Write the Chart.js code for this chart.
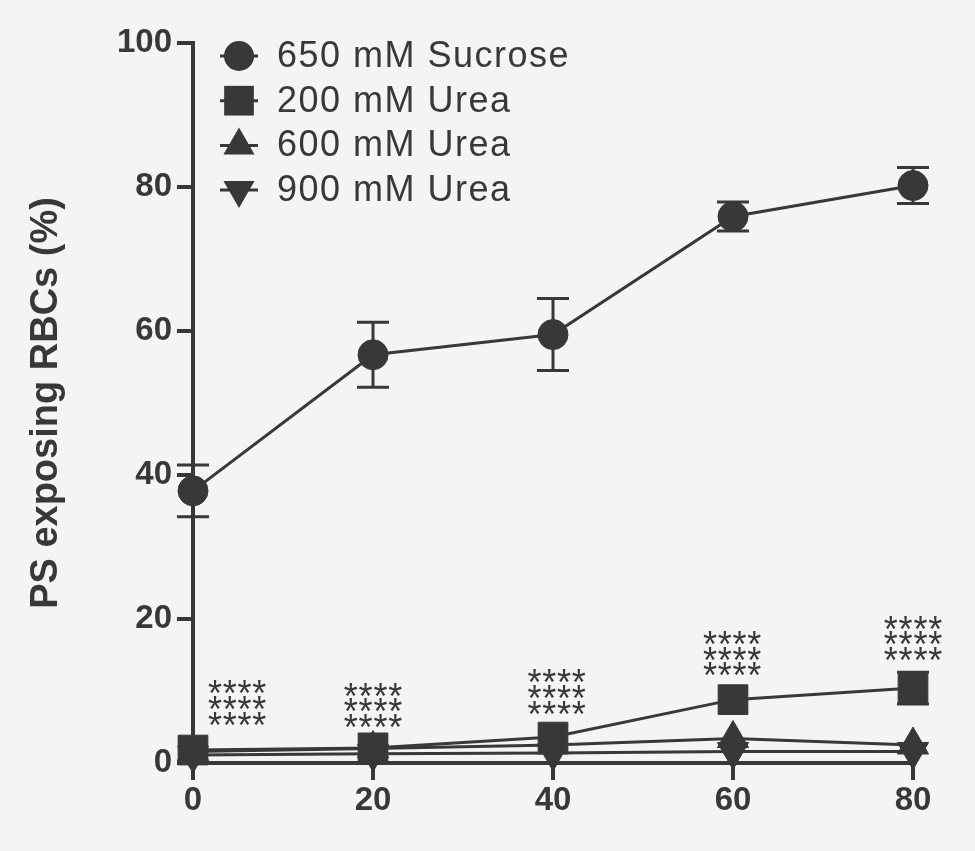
<!DOCTYPE html>
<html>
<head>
<meta charset="utf-8">
<script src="https://cdn.jsdelivr.net/npm/chart.js@4/dist/chart.umd.min.js"></script>
<style>
  html, body { margin: 0; padding: 0; background: #f4f4f3; }
  #wrap { width: 975px; height: 851px; }
</style>
</head>
<body>
<div id="wrap"><canvas id="chart" width="975" height="851"></canvas></div>
<script>
// values
const timePoints = [0, 20, 40, 60, 80];
const xTicks = [0, 20, 40, 60, 80];
const yTicks = [0, 20, 40, 60, 80, 100];
const seriesNames = ["650 mM Sucrose", "200 mM Urea", "600 mM Urea", "900 mM Urea"];
const sucrose = [37.8, 56.7, 59.5, 75.9, 80.2];
const sucroseErr = [3.6, 4.5, 5.0, 2.0, 2.5];
const urea200 = [1.8, 2.1, 3.6, 8.8, 10.4];
const urea200Err = [0, 0, 0, 0, 2.2];
const urea600 = [1.6, 2.0, 2.5, 3.4, 2.5];
const urea900 = [1.1, 1.3, 1.4, 1.6, 1.6];
const starText = "****";
const starX = [4.9, 20, 40.4, 59.9, 80];
const starY = [8.3, 8.0, 9.9, 15.2, 17.3]; // middle row of each stack

const ink = "#383838";
const font = '"Liberation Sans", Arial, sans-serif';

const paper = {
  id: "paper",
  beforeDraw(c) {
    const ctx = c.ctx;
    ctx.save();
    ctx.fillStyle = "#f4f4f3";
    ctx.fillRect(0, 0, c.width, c.height);
    ctx.restore();
  },
};

const errorBars = {
  id: "errorBars",
  beforeDatasetsDraw(c) {
    const ctx = c.ctx, x = c.scales.x, y = c.scales.y;
    ctx.save();
    ctx.strokeStyle = ink;
    ctx.lineWidth = 3;
    [[sucrose, sucroseErr], [urea200, urea200Err]].forEach(([vals, errs]) => {
      vals.forEach((v, i) => {
        if (!errs[i]) return;
        const px = x.getPixelForValue(timePoints[i]);
        const top = y.getPixelForValue(v + errs[i]);
        const bot = y.getPixelForValue(v - errs[i]);
        ctx.beginPath();
        ctx.moveTo(px, top); ctx.lineTo(px, bot);
        ctx.moveTo(px - 16, top); ctx.lineTo(px + 16, top);
        ctx.moveTo(px - 16, bot); ctx.lineTo(px + 16, bot);
        ctx.stroke();
      });
    });
    ctx.restore();
  },
};

// significance marks: three rows of four asterisks
const stars = {
  id: "stars",
  afterDatasetsDraw(c) {
    const ctx = c.ctx, x = c.scales.x, y = c.scales.y;
    ctx.save();
    ctx.fillStyle = ink;
    ctx.font = "36px " + font;
    ctx.textAlign = "center";
    ctx.textBaseline = "alphabetic";
    const n = starText.length, gap = 14.8;
    starX.forEach((sx, i) => {
      const px = x.getPixelForValue(sx), py = y.getPixelForValue(starY[i]);
      [-1, 0, 1].forEach(r => {
        for (let k = 0; k < n; k++) {
          ctx.fillText(starText[k], px + (k - (n - 1) / 2) * gap, py + r * 15.8 + 19);
        }
      });
    });
    ctx.restore();
  },
};

const legendBox = {
  id: "legendBox",
  afterDraw(c) {
    const ctx = c.ctx, a = c.chartArea;
    ctx.save();
    c.data.datasets.forEach((ds, i) => {
      const cx = a.left + 46, cy = a.top + 13 + i * 44.7;
      ctx.strokeStyle = ink;
      ctx.fillStyle = ink;
      ctx.lineWidth = 3;
      ctx.beginPath();
      ctx.moveTo(cx - 19, cy); ctx.lineTo(cx + 19, cy);
      ctx.stroke();
      Chart.helpers.drawPoint(ctx, {
        pointStyle: ds.pointStyle,
        rotation: ds.pointRotation || 0,
        radius: ds.pointRadius,
        borderWidth: 0,
      }, cx, cy);
      ctx.font = "36px " + font;
      ctx.letterSpacing = "1.5px";
      ctx.textAlign = "left";
      ctx.textBaseline = "middle";
      ctx.fillText(seriesNames[i], a.left + 84, cy + 1);
    });
    ctx.restore();
  },
};

function series(label, values, style, radius, rotation) {
  return {
    label: label,
    data: values.map((v, i) => ({ x: timePoints[i], y: v })),
    borderColor: ink,
    borderWidth: 3,
    pointStyle: style,
    pointRadius: radius,
    pointRotation: rotation || 0,
    pointBackgroundColor: ink,
    pointBorderColor: ink,
    pointBorderWidth: 1,
    pointHoverRadius: radius,
    fill: false,
    tension: 0,
    clip: false,
  };
}

const tickFont = { size: 33, weight: "bold", family: font };

new Chart(document.getElementById("chart"), {
  type: "line",
  data: {
    datasets: [
      series(seriesNames[0], sucrose, "circle", 15),
      series(seriesNames[1], urea200, "rect", 21),
      series(seriesNames[2], urea600, "triangle", 18),
      series(seriesNames[3], urea900, "triangle", 18, 180),
    ],
  },
  options: {
    responsive: false,
    animation: false,
    layout: { padding: { top: 43, right: 62, bottom: 0, left: 0 } },
    plugins: { legend: { display: false }, tooltip: { enabled: false } },
    scales: {
      x: {
        type: "linear",
        min: 0,
        max: 80,
        afterBuildTicks: s => { s.ticks = xTicks.map(v => ({ value: v })); },
        afterFit: s => { s.height = 88; },
        ticks: { font: tickFont, color: ink, padding: 1, maxRotation: 0 },
        grid: { drawOnChartArea: false, tickLength: 17, lineWidth: 4, color: ink },
        border: { width: 4, color: ink },
      },
      y: {
        min: 0,
        max: 100,
        afterBuildTicks: s => { s.ticks = yTicks.map(v => ({ value: v })); },
        afterFit: s => { s.width = 193; },
        ticks: { font: tickFont, color: ink, padding: 5 },
        grid: { drawOnChartArea: false, tickLength: 16, lineWidth: 4, color: ink },
        border: { width: 4, color: ink },
        title: {
          display: true,
          text: "PS exposing RBCs (%)",
          color: ink,
          font: { size: 38, weight: "bold", family: font },
          padding: { top: 24, bottom: 0 },
        },
      },
    },
  },
  plugins: [paper, errorBars, stars, legendBox],
});
</script>
</body>
</html>
